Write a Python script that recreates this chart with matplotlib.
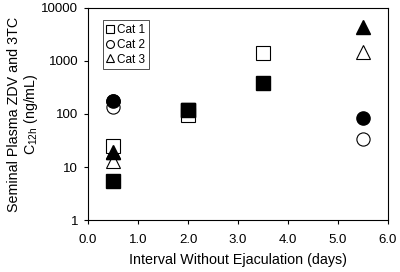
import matplotlib
matplotlib.use("Agg")
import matplotlib.pyplot as plt
from matplotlib.ticker import FixedLocator, NullLocator

plt.rcParams['font.family'] = ['Liberation Sans', 'DejaVu Sans']
plt.rcParams['mathtext.fontset'] = 'custom'
plt.rcParams['mathtext.rm'] = 'Liberation Sans'

# open markers = ZDV, filled markers = 3TC
cat1_x = [0.5, 2.0, 3.5]
cat1_zdv = [25, 95, 1400]
cat1_3tc = [5.4, 118, 380]

cat2_x = [0.5, 5.5]
cat2_zdv = [135, 34]
cat2_3tc = [175, 84]

cat3_x = [0.5, 5.5]
cat3_zdv = [13, 1480]
cat3_3tc = [19, 4400]

xticks = [0.0, 1.0, 2.0, 3.0, 4.0, 5.0, 6.0]
yticks = [1, 10, 100, 1000, 10000]

fig = plt.figure(figsize=(4, 2.72), dpi=100)
ax = fig.add_axes([0.22, 0.191, 0.75, 0.78])

ms = 9.5
# filled first so open sits on top where they overlap
ax.plot(cat1_x, cat1_3tc, 's', color='black', ms=ms, ls='none')
ax.plot(cat2_x, cat2_3tc, 'o', color='black', ms=ms, ls='none')
ax.plot(cat3_x, cat3_3tc, '^', color='black', ms=ms, ls='none')
h1, = ax.plot(cat1_x, cat1_zdv, 's', mfc='white', mec='black', mew=0.8, ms=ms, ls='none', label='Cat 1')
h2, = ax.plot(cat2_x, cat2_zdv, 'o', mfc='white', mec='black', mew=0.8, ms=ms, ls='none', label='Cat 2')
h3, = ax.plot(cat3_x, cat3_zdv, '^', mfc='white', mec='black', mew=0.8, ms=ms, ls='none', label='Cat 3')
# redraw filled markers that should be on top
ax.plot([2.0], [cat1_3tc[1]], 's', color='black', ms=ms, ls='none')
ax.plot([0.5], [cat2_3tc[0]], 'o', color='black', ms=ms, ls='none')
ax.plot([0.5], [cat3_3tc[0]], '^', color='black', ms=ms, ls='none')

ax.set_yscale('log')
ax.set_ylim(1, 10000)
ax.set_xlim(0, 6)
ax.yaxis.set_major_locator(FixedLocator(yticks))
ax.yaxis.set_minor_locator(NullLocator())
ax.set_yticklabels([str(v) for v in yticks])
ax.set_xticks(xticks)
ax.set_xticklabels(['%.1f' % v for v in xticks])
ax.tick_params(labelsize=9.5, direction='out', length=3, width=0.8)
ax.tick_params(axis='x', pad=7)
ax.tick_params(axis='y', pad=4)

ax.set_xlabel('Interval Without Ejaculation (days)', fontsize=10.3, labelpad=5)
ax.set_ylabel('Seminal Plasma ZDV and 3TC\nC$_{\\mathrm{12h}}$ (ng/mL)', fontsize=10.3,
              linespacing=1.05)
ax.yaxis.set_label_coords(-0.16, 0.5)

leg = ax.legend(handles=[h1, h2, h3], loc='upper left', fontsize=8.5,
                markerscale=0.6, handlelength=0.6, handletextpad=0.3,
                borderpad=0.3, labelspacing=0.25, frameon=True, fancybox=False,
                bbox_to_anchor=(0.03, 0.97))
leg.get_frame().set_edgecolor('black')
leg.get_frame().set_linewidth(0.6)

fig.savefig('out.png', dpi=100)
